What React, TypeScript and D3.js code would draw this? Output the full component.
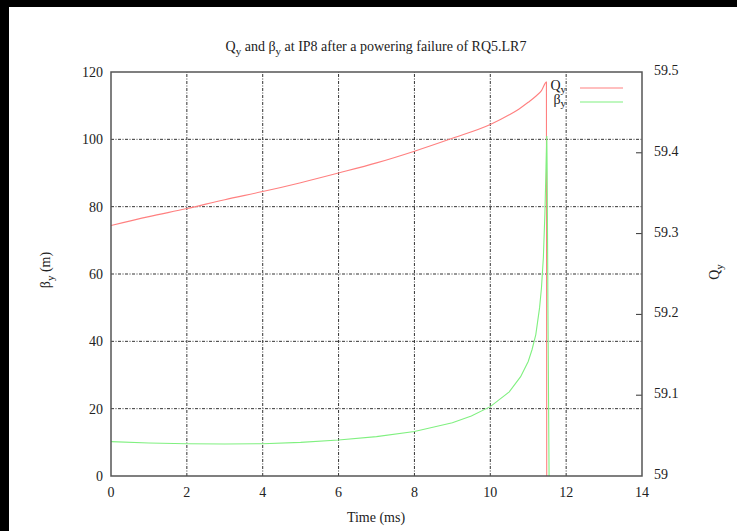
import React from "react";
import * as d3 from "d3";

const timeMs = [0, 1, 2, 3, 4, 5, 6, 7, 8, 9, 10, 10.5, 10.75, 11, 11.2, 11.35, 11.48, 11.49];
const qy = [59.31, 59.321, 59.331, 59.342, 59.352, 59.363, 59.375, 59.3875, 59.402, 59.418, 59.435, 59.447, 59.454, 59.4625, 59.47, 59.477, 59.4875, 58.9];

const betaTime = [0, 1, 2, 3, 4, 5, 6, 7, 8, 9, 9.5, 10, 10.5, 10.8, 11, 11.1, 11.2, 11.3, 11.35, 11.4, 11.44, 11.47, 11.49, 11.5, 11.52, 11.55, 11.56];
const betaY = [10.2, 9.8, 9.6, 9.5, 9.6, 10, 10.7, 11.7, 13.2, 15.8, 17.8, 20.6, 25, 29.5, 34, 37.5, 42, 50, 56, 65, 78, 92, 101, 90, 50, 0, -5];

const xTicks = [0, 2, 4, 6, 8, 10, 12, 14];
const yTicks = [0, 20, 40, 60, 80, 100, 120];
const y2Ticks = [59, 59.1, 59.2, 59.3, 59.4, 59.5];

const W = 737, H = 531;
const L = 111, R = 642, T = 72, B = 476;
const font = "Liberation Serif, DejaVu Serif, serif";

export default function App() {
  const x = d3.scaleLinear().domain([0, 14]).range([L, R]);
  const y = d3.scaleLinear().domain([0, 120]).range([B, T]);
  const y2 = d3.scaleLinear().domain([59, 59.5]).range([B, T]);

  const qLine = d3.line<number>().x((_, i) => x(timeMs[i])).y((d) => y2(d)).curve(d3.curveMonotoneX);
  const bLine = d3.line<number>().x((_, i) => x(betaTime[i])).y((d) => y(d));

  const gridStyle = { stroke: "#333", strokeWidth: 1, strokeDasharray: "3,1.5,1,1.5" };
  const textColor = "#222";
  const ts = { fontFamily: font };

  return (
    <svg width={W} height={H} style={{ position: "absolute", left: 0, top: 0, background: "#fff", fontFamily: font }}>
      <rect x={0} y={0} width={W} height={H} fill="#fff" />
      <rect x={0} y={0} width={W} height={7} fill="#000" />
      <rect x={0} y={0} width={9} height={H} fill="#000" />
      <defs>
        <clipPath id="plotClip">
          <rect x={L} y={T} width={R - L} height={B - T} />
        </clipPath>
      </defs>

      {xTicks.slice(1, -1).map((t) => (
        <line key={"gx" + t} x1={x(t)} x2={x(t)} y1={B} y2={T} style={gridStyle} />
      ))}
      {yTicks.slice(1, -1).map((t) => (
        <line key={"gy" + t} x1={L} x2={R} y1={y(t)} y2={y(t)} style={gridStyle} />
      ))}

      {y2Ticks.slice(1, -1).map((t) => (
        <line key={"t2" + t} x1={R - 6} x2={R} y1={y2(t)} y2={y2(t)} stroke="#333" strokeWidth={1} />
      ))}

      <g clipPath="url(#plotClip)">
        <path d={qLine(qy) || ""} fill="none" stroke="#ff8080" strokeWidth={1.1} />
        <path d={bLine(betaY) || ""} fill="none" stroke="#80f080" strokeWidth={1.1} />
      </g>

      <rect x={L} y={T} width={R - L} height={B - T} fill="none" stroke="#555" strokeWidth={1.5} />

      {xTicks.map((t) => (
        <text key={"xl" + t} x={x(t)} y={B + 21} textAnchor="middle" fontSize={14} fill={textColor} style={ts}>
          {t}
        </text>
      ))}
      {yTicks.map((t) => (
        <text key={"yl" + t} x={L - 8} y={y(t) + 5} textAnchor="end" fontSize={14} fill={textColor} style={ts}>
          {t}
        </text>
      ))}
      {y2Ticks.map((t) => (
        <text key={"y2l" + t} x={R + 12} y={y2(t) + 3} textAnchor="start" fontSize={14} fill={textColor} style={ts}>
          {t === 59 ? "59" : t.toFixed(1)}
        </text>
      ))}

      <text x={376} y={51} textAnchor="middle" fontSize={14} fill={textColor} style={ts}>
        Q<tspan dy={4} fontSize={11}>y</tspan>
        <tspan dy={-4}> and β</tspan>
        <tspan dy={4} fontSize={11}>y</tspan>
        <tspan dy={-4}> at IP8 after a powering failure of RQ5.LR7</tspan>
      </text>

      <text x={376} y={522} textAnchor="middle" fontSize={14} fill={textColor} style={ts}>Time (ms)</text>
      <text transform={`translate(50,${(T + B) / 2 - 4}) rotate(-90)`} textAnchor="middle" fontSize={14} fill={textColor} style={ts}>
        β<tspan dy={4} fontSize={11}>y</tspan>
        <tspan dy={-4}> (m)</tspan>
      </text>
      <text transform={`translate(719,${(T + B) / 2 - 2}) rotate(-90)`} textAnchor="middle" fontSize={14} fill={textColor} style={ts}>
        Q<tspan dy={4} fontSize={11}>y</tspan>
      </text>

      <text x={566} y={90} textAnchor="end" fontSize={14} fill={textColor} style={ts}>
        Q<tspan dy={3} fontSize={11}>y</tspan>
      </text>
      <line x1={580} x2={623} y1={88} y2={88} stroke="#ff8080" strokeWidth={1.1} />
      <text x={566} y={104} textAnchor="end" fontSize={14} fill={textColor} style={ts}>
        β<tspan dy={3} fontSize={11}>y</tspan>
      </text>
      <line x1={580} x2={623} y1={102} y2={102} stroke="#80f080" strokeWidth={1.1} />
    </svg>
  );
}
